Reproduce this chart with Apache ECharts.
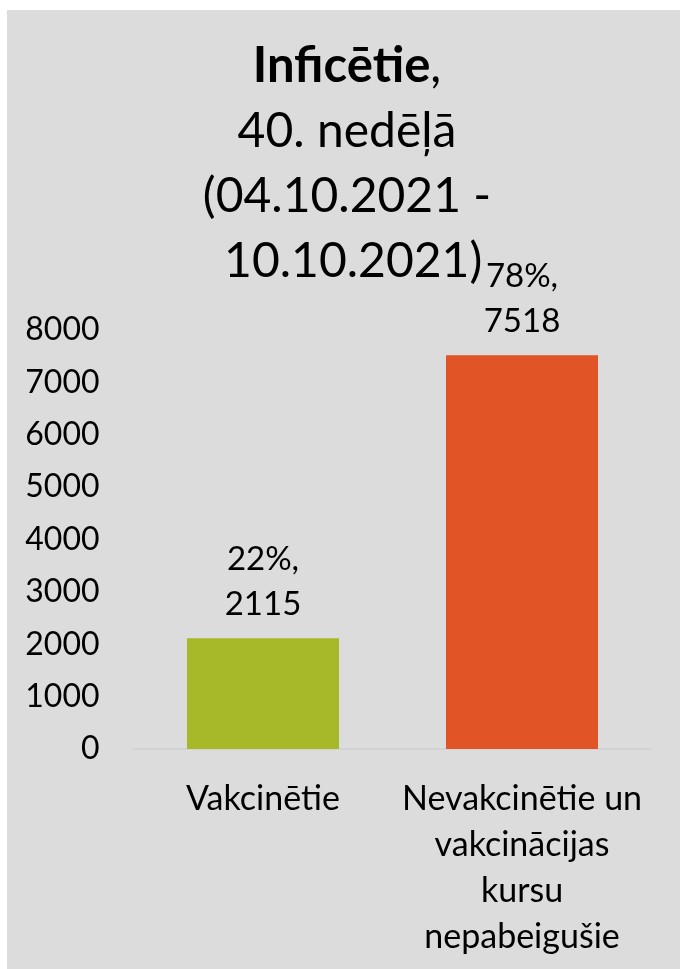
<!DOCTYPE html>
<html>
<head>
<meta charset="utf-8">
<script src="https://cdn.jsdelivr.net/npm/echarts@6/dist/echarts.min.js"></script>
<style>
  html, body { margin: 0; padding: 0; background: #ffffff; }
  #main { position: absolute; left: 7px; top: 10px; width: 673px; height: 959px; background: #DCDCDC; }
</style>
</head>
<body>
<div id="main"></div>
<script>
const categories = ['Vakcinētie', 'Nevakcinētie un\nvakcinācijas\nkursu\nnepabeigušie'];
const values = [2115, 7518];
const percents = ['22%', '78%'];
const barColors = ['#A7B829', '#E05426'];
const yTicks = { min: 0, max: 8000, interval: 1000 };

const FONT = 'Lato';
const chart = echarts.init(document.getElementById('main'), null, { renderer: 'canvas' });

chart.setOption({
  backgroundColor: 'transparent',
  animation: false,
  title: {
    text: '{b|Inficētie}{r|,}\n{r|40. nedēļā}\n{r|(04.10.2021 -}\n{r| 10.10.2021)}',
    left: 340,
    top: 24,
    textAlign: 'center',
    padding: 0,
    textStyle: {
      fontFamily: FONT,
      fontSize: 48,
      lineHeight: 65,
      color: '#000',
      rich: {
        b: { fontFamily: FONT, fontSize: 49, fontWeight: 'bold', lineHeight: 65, color: '#000' },
        r: { fontFamily: FONT, fontSize: 48, fontWeight: 'normal', lineHeight: 65, color: '#000' }
      }
    }
  },
  grid: { left: 126.5, right: 28.5, top: 320, bottom: 220, containLabel: false },
  xAxis: {
    type: 'category',
    data: categories,
    axisLine: { show: true, lineStyle: { color: '#D0D0D0', width: 1.5 } },
    axisTick: { show: false },
    axisLabel: {
      fontFamily: FONT, fontSize: 34, lineHeight: 46, color: '#000',
      margin: 27, interval: 0, align: 'center'
    }
  },
  yAxis: {
    type: 'value',
    min: yTicks.min, max: yTicks.max, interval: yTicks.interval,
    axisLine: { show: false },
    axisTick: { show: false },
    splitLine: { show: false },
    axisLabel: { fontFamily: FONT, fontSize: 32, color: '#000', margin: 34, formatter: v => String(v) }
  },
  series: [{
    type: 'bar',
    barWidth: 152,
    data: values.map((v, i) => ({ value: v, itemStyle: { color: barColors[i] } })),
    label: {
      show: true,
      position: 'top',
      distance: 11,
      fontFamily: FONT, fontSize: 33, lineHeight: 45, color: '#000',
      formatter: p => percents[p.dataIndex] + ',\n' + p.value
    }
  }]
});
</script>
</body>
</html>
